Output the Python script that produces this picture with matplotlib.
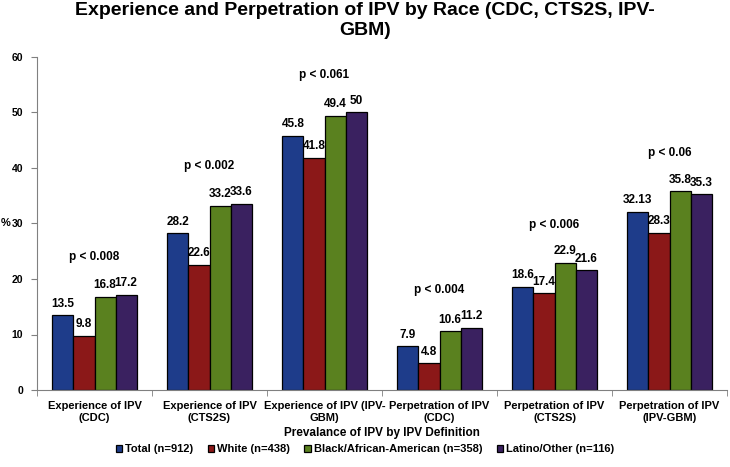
import matplotlib
matplotlib.use("Agg")
import matplotlib.pyplot as plt
import numpy as np

categories = ["Experience of IPV\n(CDC)", "Experience of IPV\n(CTS2S)", "Experience of IPV (IPV-\nGBM)",
              "Perpetration of IPV\n(CDC)", "Perpetration of IPV\n(CTS2S)", "Perpetration of IPV\n(IPV-GBM)"]
series_names = ["Total (n=912)", "White (n=438)", "Black/African-American (n=358)", "Latino/Other (n=116)"]
total = [13.5, 28.2, 45.8, 7.9, 18.6, 32.13]
white = [9.8, 22.6, 41.8, 4.8, 17.4, 28.3]
black = [16.8, 33.2, 49.4, 10.6, 22.9, 35.8]
latino = [17.2, 33.6, 50, 11.2, 21.6, 35.3]
value_labels = [["13.5", "28.2", "45.8", "7.9", "18.6", "32.13"],
                ["9.8", "22.6", "41.8", "4.8", "17.4", "28.3"],
                ["16.8", "33.2", "49.4", "10.6", "22.9", "35.8"],
                ["17.2", "33.6", "50", "11.2", "21.6", "35.3"]]
p_values = ["p < 0.008", "p < 0.002", "p < 0.061", "p < 0.004", "p < 0.006", "p < 0.06"]
colors = ["#1E3C8A", "#8B1818", "#5A811F", "#3A2160"]

plt.rcParams['font.family'] = ['Liberation Sans', 'DejaVu Sans']
plt.rcParams['font.weight'] = 'bold'

fig = plt.figure(figsize=(7.3, 4.67), dpi=100)
ax = fig.add_axes([37/730, 1-390/467, 690/730, 333/467])

series = [total, white, black, latino]
x = np.arange(len(categories))
w = 0.183
for i, (vals, c, name) in enumerate(zip(series, colors, series_names)):
    pos = x + (i - 1.5) * w
    ax.bar(pos, vals, width=w, color=c, edgecolor="black", linewidth=0.9, label=name)
    for px, v, lab in zip(pos, vals, value_labels[i]):
        ax.annotate(lab, (px, v), xytext=(0, 4), textcoords="offset points",
                    ha="center", va="bottom", fontsize=8.5, fontweight="bold")

maxes = np.max(np.array(series), axis=0)
for xi, m, p in zip(x, maxes, p_values):
    ax.annotate(p, (xi, m), xytext=(0, 23), textcoords="offset points",
                ha="center", va="bottom", fontsize=8.5, fontweight="bold")

ax.set_xlim(-0.5, len(categories) - 0.5)
ax.set_ylim(0, 60)
ax.set_yticks(range(0, 61, 10))
ax.set_xticks(x)
ax.set_xticklabels(categories, fontsize=8, fontweight="bold", linespacing=1.2)
ax.tick_params(axis="x", length=0, pad=8)
ax.set_xticks(np.arange(-0.5, len(categories), 1), minor=True)
ax.tick_params(axis="x", which="minor", length=4, direction="out", color="#808080")
ax.tick_params(axis="y", labelsize=7.5, length=4, direction="out", color="#808080", pad=6)
for lab in ax.get_yticklabels():
    lab.set_fontweight("bold")
for s in ["top", "right"]:
    ax.spines[s].set_visible(False)
ax.spines["left"].set_color("#808080")
ax.spines["bottom"].set_color("#808080")
ax.set_ylabel("%", rotation=0, fontsize=8, fontweight="bold", va="center", ha="left")
ax.yaxis.set_label_coords(-36/690, 0.5)
ax.set_xlabel("Prevalance of IPV by IPV Definition", fontsize=8.5, fontweight="bold", labelpad=3)

fig.suptitle("Experience and Perpetration of IPV by Race (CDC, CTS2S, IPV-\nGBM)",
             x=0.5, y=0.995, fontsize=14, fontweight="bold", linespacing=1.2)

leg = fig.legend(loc="center", bbox_to_anchor=(0.5, 1-449/467), ncol=4, frameon=False,
                 fontsize=8, handlelength=0.6, handleheight=0.6, handletextpad=0.25, columnspacing=1.3)

fig.savefig("out.png", dpi=100)
